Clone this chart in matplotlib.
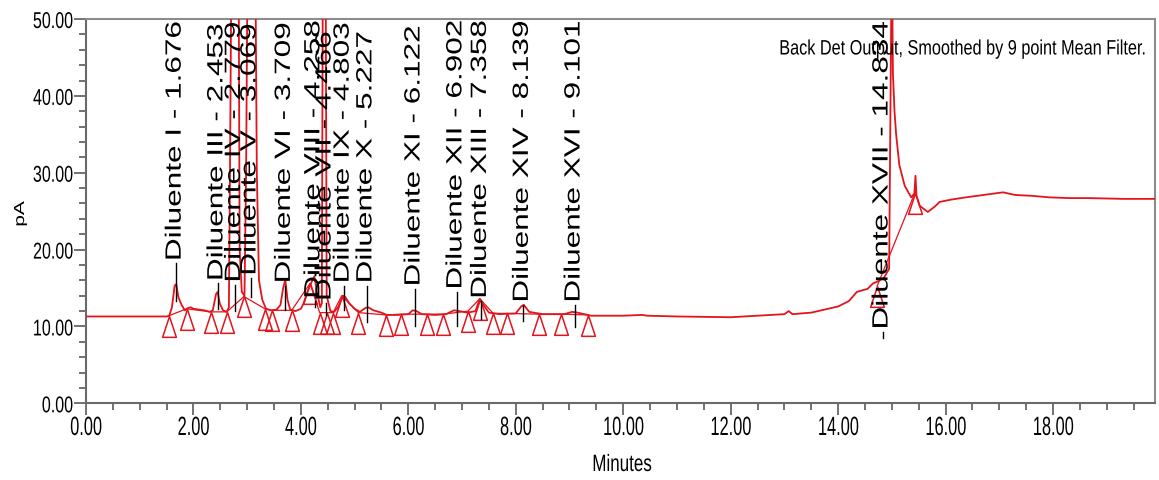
import matplotlib
matplotlib.use('Agg')
import matplotlib.pyplot as plt
from matplotlib.patheffects import AbstractPathEffect
from matplotlib.transforms import Affine2D
from matplotlib.path import Path
from matplotlib.ticker import MultipleLocator, FormatStrFormatter

# FID trace (minutes, pA); values above 50 are off scale
time = [0.00, 1.50, 1.55, 1.60, 1.65, 1.68, 1.72, 1.78, 1.84, 1.90, 1.95, 2.00,
        2.10, 2.20, 2.30, 2.36, 2.42, 2.45, 2.49, 2.55, 2.62, 2.66, 2.68, 2.71,
        2.78, 2.84, 2.86, 2.90, 2.95, 2.98, 3.01, 3.07, 3.15, 3.18, 3.22, 3.28,
        3.35, 3.45, 3.55, 3.62, 3.67, 3.71, 3.75, 3.80, 3.90, 4.00, 4.05, 4.12,
        4.20, 4.25, 4.30, 4.36, 4.39, 4.41, 4.46, 4.48, 4.55, 4.62, 4.70, 4.78,
        4.82, 4.90, 5.00, 5.10, 5.20, 5.25, 5.35, 5.50, 5.60, 5.80, 6.00, 6.08,
        6.15, 6.25, 6.50, 6.70, 6.85, 6.95, 7.10, 7.25, 7.33, 7.40, 7.50, 7.70,
        8.00, 8.10, 8.15, 8.25, 8.50, 8.90, 9.05, 9.15, 9.40, 10.00, 10.35, 10.45,
        11.00, 12.00, 12.50, 13.00, 13.08, 13.15, 13.50, 14.00, 14.20, 14.35,
        14.55, 14.65, 14.75, 14.85, 14.95, 15.00, 15.02, 15.05, 15.08, 15.14,
        15.24, 15.36, 15.42, 15.44, 15.46, 15.52, 15.67, 15.80, 15.89, 16.10,
        16.38, 16.70, 17.07, 17.30, 17.60, 17.93, 18.30, 18.68, 19.30, 19.90]
signal = [11.3, 11.3, 11.4, 12.5, 15.3, 15.5, 13.8, 12.8, 12.1, 12.4, 12.5, 12.3,
          12.2, 12.1, 11.9, 12.1, 14.2, 14.5, 13.0, 12.1, 11.9, 12.5, 30.0, 60.0,
          70.0, 60.0, 20.0, 14.5, 14.0, 30.0, 60.0, 80.0, 60.0, 30.0, 16.0, 13.5,
          12.3, 12.1, 12.2, 12.8, 15.0, 16.1, 13.5, 12.2, 12.0, 12.3, 13.0, 14.5,
          15.8, 16.5, 14.5, 12.5, 13.0, 60.0, 60.0, 14.0, 12.0, 11.9, 12.6, 14.0,
          13.9, 13.0, 12.3, 11.9, 12.4, 12.5, 12.1, 11.8, 11.5, 11.5, 11.6, 12.1,
          12.0, 11.6, 11.5, 11.6, 12.1, 12.0, 11.8, 12.0, 13.6, 12.8, 11.8, 11.6,
          11.7, 12.6, 12.8, 11.9, 11.6, 11.6, 11.9, 11.8, 11.4, 11.4, 11.5, 11.4,
          11.3, 11.2, 11.4, 11.6, 12.0, 11.6, 11.8, 12.6, 13.3, 14.5,
          14.9, 15.6, 15.9, 16.3, 17.5, 60.0, 43.0, 38.0, 35.0, 31.0,
          28.3, 26.8, 27.3, 29.6, 27.0, 25.7, 24.9, 25.6, 26.2, 26.5,
          26.8, 27.1, 27.45, 27.1, 27.0, 26.8, 26.7, 26.7, 26.6, 26.6]

# integration start/end marks
mark_t = [1.544, 1.873, 2.326, 2.62, 2.94, 3.33, 3.455, 3.83, 4.17, 4.35, 4.48,
          4.60, 4.76, 5.07, 5.59, 5.87, 6.34, 6.65, 7.11, 7.33, 7.58, 7.83,
          8.43, 8.85, 9.35]
mark_v = [11.4, 12.3, 11.9, 11.9, 13.9, 12.3, 12.1, 12.1, 15.6, 11.8, 11.8,
          11.8, 14.0, 11.8, 11.5, 11.6, 11.6, 11.6, 12.0, 13.6, 11.7, 11.7,
          11.6, 11.6, 11.5]
mark2_t = [14.73, 15.43]
mark2_v = [15.3, 27.4]

peak_names = ['I', 'III', 'IV', 'V', 'VI', 'VIII', 'VII', 'IX', 'X', 'XI',
              'XII', 'XIII', 'XIV', 'XVI', 'XVII']
peak_rt = [1.676, 2.453, 2.779, 3.069, 3.709, 4.258, 4.466, 4.803, 5.227,
           6.122, 6.902, 7.358, 8.139, 9.101, 14.834]
label_base = [18.5, 15.9, 15.7, 16.6, 15.6, 13.6, 13.3, 15.6, 15.6, 15.2,
              14.8, 13.6, 13.1, 13.1, 9.6]
tick_low = [13.3, 12.3, 12.0, 13.8, 12.2, 12.5, 11.5, 12.2, 10.6, 10.1,
            10.1, 11.0, 10.75, 9.9, 8.5]


class Squeeze(AbstractPathEffect):
    # source picture is squashed sideways, so squash the glyphs the same way
    def __init__(self, sx=0.72, anchor=0.5):
        super().__init__()
        self.sx = sx
        self.anchor = anchor

    def draw_path(self, renderer, gc, tpath, affine, rgbFace=None):
        bb = tpath.get_extents(affine)
        x0 = bb.x0 + self.anchor * bb.width
        aff = affine + Affine2D().translate(-x0, 0).scale(self.sx, 1).translate(x0, 0)
        renderer.draw_path(gc, tpath, aff, rgbFace)


plt.rcParams['font.family'] = ['Liberation Sans', 'DejaVu Sans']
red = '#e3141c'

fig = plt.figure(figsize=(11.59, 4.81), dpi=100)
ax = fig.add_axes([0.0742, 0.1594, 0.9224, 0.7990])

ax.plot(time, signal, color=red, lw=1.3, zorder=3)

# open triangles hanging under the baseline points
tri = Path([(0, 0), (-0.33, -1), (0.33, -1), (0, 0)],
           [Path.MOVETO, Path.LINETO, Path.LINETO, Path.CLOSEPOLY])
ax.plot(mark_t, mark_v, color=red, lw=0.9, marker=tri, ms=30,
        mfc='none', mec=red, mew=1.1, zorder=2)
ax.plot(mark2_t, mark2_v, color=red, lw=0.9, marker=tri, ms=30,
        mfc='none', mec=red, mew=1.1, zorder=2)

for name, rt, yb, yl in zip(peak_names, peak_rt, label_base, tick_low):
    ax.plot([rt, rt], [yb - 0.3, yl], color='black', lw=1.0, zorder=4)
    ax.text(rt, yb, 'Diluente %s - %.3f' % (name, rt), rotation=90,
            ha='center', va='bottom', fontsize=22.7, color='black', zorder=5,
            path_effects=[Squeeze(0.7, 0.5)])

ax.text(0.9935, 0.922, 'Back Det Output, Smoothed by 9 point Mean Filter.',
        transform=ax.transAxes, ha='right', va='center', fontsize=15,
        path_effects=[Squeeze(0.78, 1.0)], zorder=6)

ax.set_xlim(0, 19.9)
ax.set_ylim(0, 50)
ax.xaxis.set_major_locator(MultipleLocator(2))
ax.xaxis.set_minor_locator(MultipleLocator(0.5))
ax.yaxis.set_major_locator(MultipleLocator(10))
ax.yaxis.set_minor_locator(MultipleLocator(2))
ax.xaxis.set_major_formatter(FormatStrFormatter('%.2f'))
ax.yaxis.set_major_formatter(FormatStrFormatter('%.2f'))

ax.tick_params(which='both', direction='out', color='#5a5a5a', width=1.2)
ax.tick_params(which='major', length=8.6, pad=0.5)
ax.tick_params(which='minor', length=4.8)
ax.tick_params(axis='x', labelsize=19)
ax.tick_params(axis='y', labelsize=16.5)

for lab in ax.get_xticklabels():
    lab.set_path_effects([Squeeze(0.62, 0.5)])
for lab in ax.get_yticklabels():
    lab.set_path_effects([Squeeze(0.7, 1.0)])

for side in ['left', 'bottom']:
    ax.spines[side].set_color('#6a6a6a')
    ax.spines[side].set_linewidth(1.5)
for side in ['top', 'right']:
    ax.spines[side].set_color('#8c8c8c')
    ax.spines[side].set_linewidth(1.5)

fig.text(622 / 1159, 1 - 466 / 481, 'Minutes', ha='center', va='center',
         fontsize=17, path_effects=[Squeeze(0.72, 0.5)])
fig.text(20 / 1159, 1 - 215 / 481, 'pA', rotation=90, ha='center', va='center',
         fontsize=15, path_effects=[Squeeze(0.7, 0.5)])

fig.savefig('out.png', dpi=100)
